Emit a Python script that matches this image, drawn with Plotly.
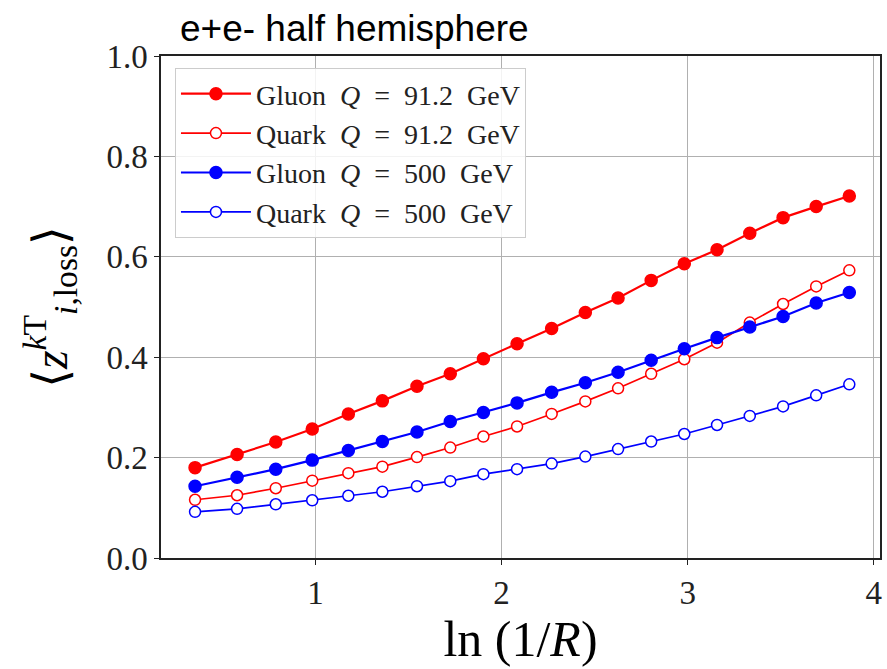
import plotly.graph_objects as go

x_vals = [0.352, 0.578, 0.786, 0.982, 1.176, 1.359, 1.545, 1.724, 1.902, 2.083,
          2.269, 2.450, 2.626, 2.804, 2.982, 3.158, 3.334, 3.513, 3.691, 3.869]

gluon_91 = [0.180, 0.206, 0.231, 0.257, 0.287, 0.313, 0.342, 0.367, 0.397, 0.427,
            0.457, 0.489, 0.518, 0.553, 0.586, 0.614, 0.647, 0.678, 0.700, 0.721]
quark_91 = [0.116, 0.125, 0.139, 0.154, 0.169, 0.182, 0.201, 0.220, 0.242, 0.262,
            0.287, 0.312, 0.338, 0.367, 0.396, 0.429, 0.469, 0.506, 0.541, 0.573]
gluon_500 = [0.143, 0.161, 0.177, 0.195, 0.214, 0.232, 0.251, 0.272, 0.290, 0.309,
             0.330, 0.349, 0.370, 0.394, 0.417, 0.439, 0.460, 0.481, 0.508, 0.529]
quark_500 = [0.092, 0.098, 0.107, 0.115, 0.124, 0.132, 0.143, 0.153, 0.167, 0.177,
             0.188, 0.202, 0.217, 0.232, 0.247, 0.265, 0.283, 0.302, 0.324, 0.346]

S = "\u00a0"
series_names = [f"Gluon{S}{S}<i>Q</i>{S}{S}={S}{S}91.2{S}{S}GeV",
                f"Quark{S}{S}<i>Q</i>{S}{S}={S}{S}91.2{S}{S}GeV",
                f"Gluon{S}{S}<i>Q</i>{S}{S}={S}{S}500{S}{S}GeV",
                f"Quark{S}{S}<i>Q</i>{S}{S}={S}{S}500{S}{S}GeV"]
x_ticks = [1, 2, 3, 4]
y_ticks = [0.0, 0.2, 0.4, 0.6, 0.8, 1.0]

RED = "#ff0000"
BLUE = "#0000ff"

fig = go.Figure()
specs = [
    (gluon_91, series_names[0], RED, True, "g1"),
    (quark_91, series_names[1], RED, False, "g2"),
    (gluon_500, series_names[2], BLUE, True, "g3"),
    (quark_500, series_names[3], BLUE, False, "g4"),
]
for ys, name, col, filled, grp in specs:
    fig.add_trace(go.Scatter(
        x=x_vals, y=ys, name=name, mode="lines+markers", legendgroup=grp,
        line=dict(color=col, width=2.2 if filled else 1.7),
        marker=dict(symbol="circle", size=12 if filled else 11,
                    color=col if filled else "white",
                    line=dict(color=col, width=1.5)),
    ))

serif = "Liberation Serif, DejaVu Serif, serif"
L, R, T, B = 161, 5, 56, 111
fig.update_layout(
    width=887, height=669,
    margin=dict(l=L, r=R, t=T, b=B),
    paper_bgcolor="white", plot_bgcolor="white",
    title=dict(text="e+e- half hemisphere", x=180/887, xanchor="left",
               y=1-28/669, yanchor="middle",
               font=dict(family="Liberation Sans, Arial, sans-serif", size=37, color="black")),
    font=dict(family=serif, color="black"),
    legend=dict(x=(175-L)/(887-L-R), y=(669-B-68)/(669-T-B), xanchor="left", yanchor="top",
                bgcolor="rgba(255,255,255,0.85)", bordercolor="#cccccc", borderwidth=1,
                font=dict(family=serif, size=28, color="#222222"),
                itemwidth=70, tracegroupgap=0),
    showlegend=True,
)
fig.update_xaxes(
    range=[0.169, 4.034], tickvals=x_ticks, ticktext=[str(t) for t in x_ticks],
    showgrid=True, gridcolor="#b0b0b0", gridwidth=1,
    showline=True, linecolor="#222222", linewidth=1.5, mirror=True,
    ticks="outside", ticklen=5, tickcolor="#222222",
    tickfont=dict(family=serif, size=33, color="#222222"),
    zeroline=False,
    title=dict(text="ln (1/<i>R</i>)", font=dict(family=serif, size=50), standoff=2),
)
fig.update_yaxes(
    range=[0, 1.0], tickvals=y_ticks, ticktext=[f"{t:.1f}" for t in y_ticks],
    showgrid=True, gridcolor="#b0b0b0", gridwidth=1,
    showline=True, linecolor="#222222", linewidth=1.5, mirror=True,
    ticks="outside", ticklen=5, tickcolor="#222222",
    tickfont=dict(family=serif, size=33, color="#222222"),
    zeroline=False,
    title=dict(text="⟨<i>z</i><sup><i>k</i>T</sup><sub><i>i</i>,loss</sub>⟩",
               font=dict(family=serif, size=48), standoff=24),
)

fig.write_html("out.html", config={"displayModeBar": False},
               post_script="document.body.style.margin='0';document.body.style.padding='0';"
                           "document.body.style.overflow='hidden';")
